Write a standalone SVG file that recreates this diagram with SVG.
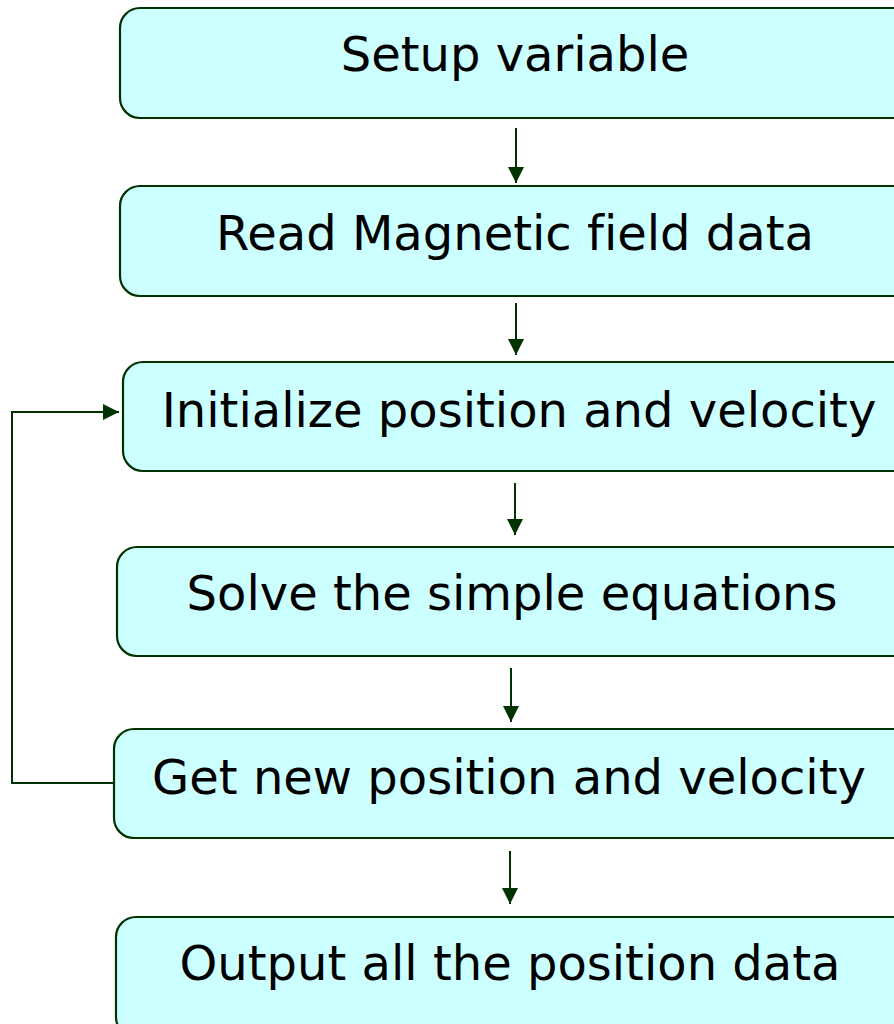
<svg xmlns="http://www.w3.org/2000/svg" width="894" height="1024" viewBox="0 0 894 1024">
  <style>
    .box { fill: #CCFFFF; stroke: #003300; stroke-width: 2.2; }
    .label { font-family: "DejaVu Sans", Verdana, sans-serif; font-size: 48px; fill: #000; text-anchor: middle; font-variant-ligatures: none; }
    .conn { fill: none; stroke: #003300; stroke-width: 2; }
  </style>
  <defs>
    <marker id="head" viewBox="0 0 16 16" refX="16" refY="8" markerWidth="16" markerHeight="16" markerUnits="userSpaceOnUse" orient="auto">
      <path d="M0,0 L16,8 L0,16 Z" fill="#003300"/>
    </marker>
  </defs>

  <g id="connectors">
    <line class="conn" x1="516" y1="128" x2="516" y2="183" marker-end="url(#head)"/>
    <line class="conn" x1="516" y1="303" x2="516" y2="355" marker-end="url(#head)"/>
    <line class="conn" x1="515" y1="483" x2="515" y2="535" marker-end="url(#head)"/>
    <line class="conn" x1="511" y1="668" x2="511" y2="722" marker-end="url(#head)"/>
    <line class="conn" x1="510" y1="851" x2="510" y2="904" marker-end="url(#head)"/>
    <polyline class="conn" points="114,783 12,783 12,412 119,412" marker-end="url(#head)"/>
  </g>

  <g id="setup">
    <rect class="box" x="120" y="8" width="800" height="110" rx="20"/>
    <text class="label" x="515" y="71">Setup variable</text>
  </g>
  <g id="read-field">
    <rect class="box" x="120" y="186" width="800" height="110" rx="20"/>
    <text class="label" x="515" y="250">Read Magnetic field data</text>
  </g>
  <g id="initialize">
    <rect class="box" x="123" y="362" width="800" height="109" rx="20"/>
    <text class="label" x="519" y="427">Initialize position and velocity</text>
  </g>
  <g id="solve">
    <rect class="box" x="117" y="547" width="800" height="109" rx="20"/>
    <text class="label" x="512" y="610">Solve the simple equations</text>
  </g>
  <g id="get-new">
    <rect class="box" x="114" y="729" width="800" height="109" rx="20"/>
    <text class="label" x="509" y="794">Get new position and velocity</text>
  </g>
  <g id="output">
    <rect class="box" x="116" y="917" width="800" height="120" rx="20"/>
    <text class="label" x="510" y="980">Output all the position data</text>
  </g>
</svg>
